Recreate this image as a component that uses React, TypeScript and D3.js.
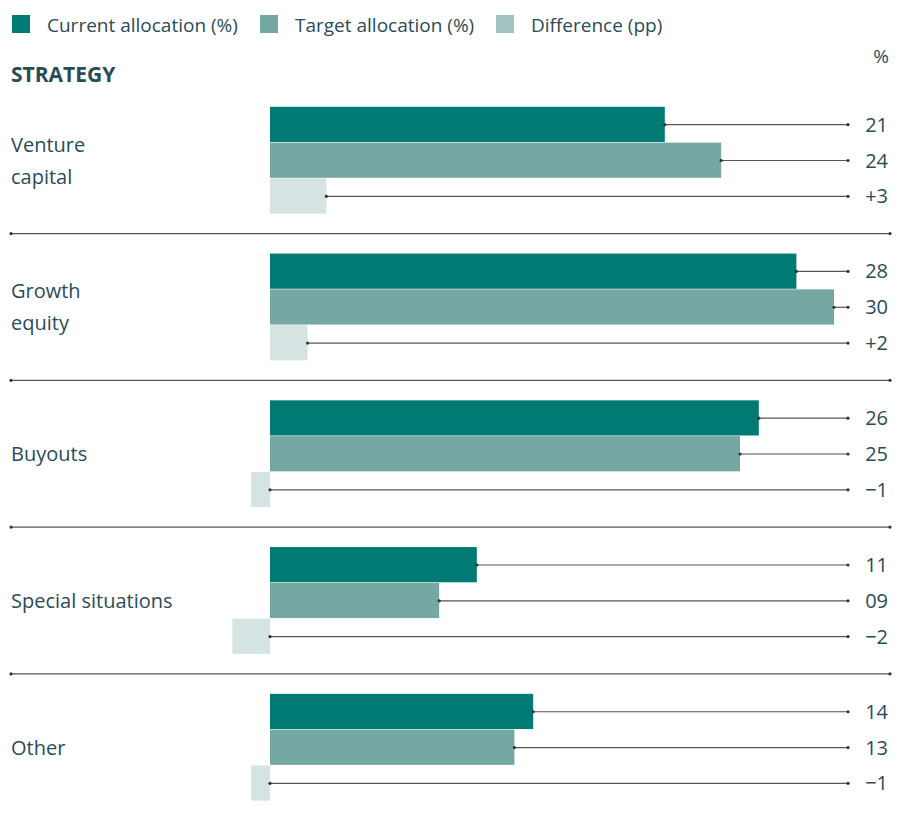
import React from "react";
import * as d3 from "d3";

const strategies = ["Venture capital", "Growth equity", "Buyouts", "Special situations", "Other"];
const labelLines = [["Venture", "capital"], ["Growth", "equity"], ["Buyouts"], ["Special situations"], ["Other"]];
const currentAlloc = [21, 28, 26, 11, 14];
const targetAlloc = [24, 30, 25, 9, 13];
const difference = [3, 2, -1, -2, -1];
const currentLabels = ["21", "28", "26", "11", "14"];
const targetLabels = ["24", "30", "25", "09", "13"];
const diffLabels = ["+3", "+2", "\u22121", "\u22122", "\u22121"];
const seriesNames = ["Current allocation (%)", "Target allocation (%)", "Difference (pp)"];

const W = 906, H = 822;
const C_CUR = "#007a73";
const C_TGT = "#76a8a3";
const C_DIFF = "#d5e4e3";
const C_DIFF_LEG = "#a2c4c1";
const TXT = "#2b4b57";
const LINE = "#555";
const FONT = "'Liberation Sans Narrow', 'Open Sans', Arial, sans-serif";

export default function App() {
  const x = d3.scaleLinear().domain([0, 30]).range([270, 834]);
  const y = d3.scaleBand().domain(strategies).range([106.8, 106.8 + 146.76 * 5]).paddingInner(0).paddingOuter(0);
  const barH = 35.8;
  const leaderEnd = 848;

  const series = [
    { vals: currentAlloc, labels: currentLabels, color: C_CUR },
    { vals: targetAlloc, labels: targetLabels, color: C_TGT },
    { vals: difference, labels: diffLabels, color: C_DIFF },
  ];

  return (
    <svg width={W} height={H} style={{ position: "absolute", left: 0, top: 0, background: "#fff" }} fontFamily={FONT}>
      {seriesNames.map((n, i) => {
        const xs = [12, 260, 496][i];
        return (
          <g key={n}>
            <rect x={xs} y={15} width={18} height={18} fill={[C_CUR, C_TGT, C_DIFF_LEG][i]} />
            <text x={xs + 35} y={32} fontSize={19} fill={TXT}>{n}</text>
          </g>
        );
      })}
      <text x={11} y={82} fontSize={21} fontWeight="bold" fill={TXT}>STRATEGY</text>
      <text x={889} y={63} fontSize={19} fill={TXT} textAnchor="end">%</text>

      {strategies.map((s, gi) => {
        const top = y(s)!;
        const center = top + (barH * 3) / 2;
        const lines = labelLines[gi];
        const sepY = top + 126.8;
        return (
          <g key={s}>
            {lines.map((l, li) => (
              <text key={l} x={11} y={center + 7 + (li - (lines.length - 1) / 2) * 32} fontSize={20} fill={TXT}>{l}</text>
            ))}
            {series.map((ser, si) => {
              const v = ser.vals[gi];
              const by = top + si * barH;
              const x0 = x(Math.min(0, v));
              const x1 = x(Math.max(0, v));
              const lx = v >= 0 ? x(v) : x(0);
              const cy = by + barH / 2;
              return (
                <g key={si}>
                  <rect x={x0} y={by} width={x1 - x0} height={barH - 0.6} fill={ser.color} />
                  <line x1={lx} x2={leaderEnd} y1={cy} y2={cy} stroke={LINE} strokeWidth={1.2} />
                  <circle cx={lx} cy={cy} r={1.6} fill="#333" />
                  <circle cx={leaderEnd} cy={cy} r={1.6} fill="#333" />
                  <text x={888} y={cy + 7} fontSize={20} fill={TXT} textAnchor="end">{ser.labels[gi]}</text>
                </g>
              );
            })}
            {gi < strategies.length - 1 && (
              <g>
                <line x1={11} x2={890} y1={sepY} y2={sepY} stroke={LINE} strokeWidth={1.2} />
                <circle cx={11} cy={sepY} r={1.6} fill="#333" />
                <circle cx={890} cy={sepY} r={1.6} fill="#333" />
              </g>
            )}
          </g>
        );
      })}
    </svg>
  );
}
